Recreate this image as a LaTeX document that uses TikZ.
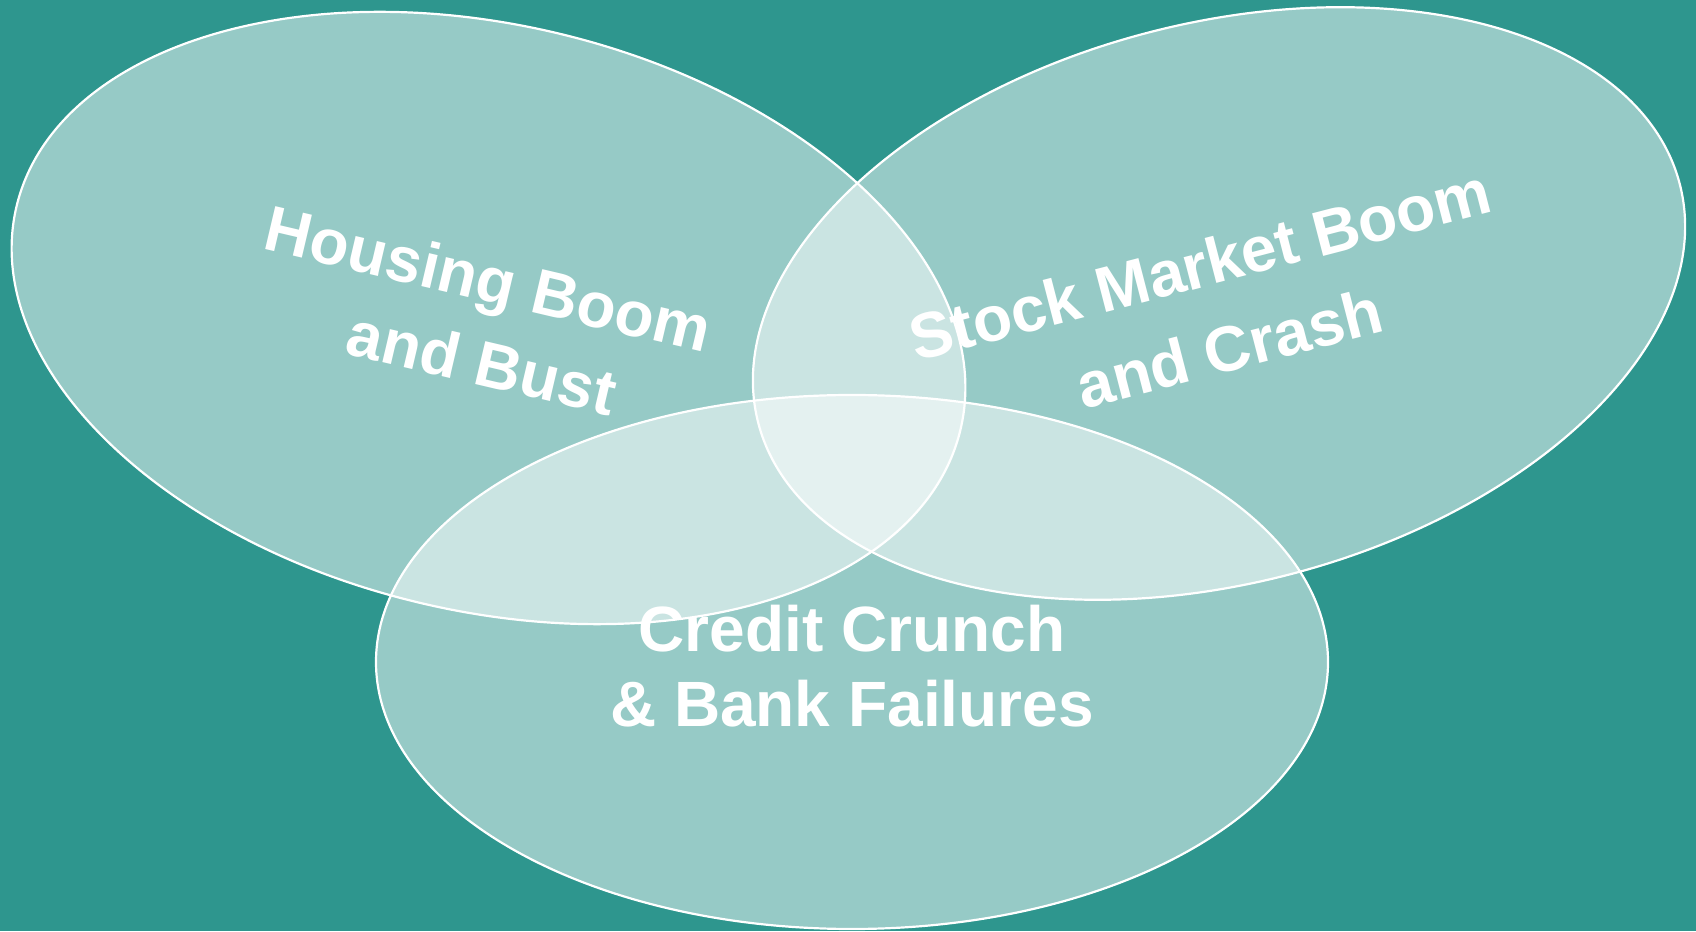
\documentclass[tikz,border=0pt]{standalone}
\usepackage{fontspec}
\setmainfont{Liberation Sans}
\usetikzlibrary{shapes.geometric}
\definecolor{bgteal}{RGB}{46,150,142}
\begin{document}
\begin{tikzpicture}[x=1pt,y=1pt,
  venn/.style={ellipse, draw=white, line width=2.2pt, fill=white, fill opacity=0.5, draw opacity=1, inner sep=0pt, outer sep=0pt},
  lbl/.style={text=white, align=center, inner sep=0pt, font=\fontsize{64}{75}\selectfont\bfseries}]
\fill[bgteal] (0,0) rectangle (1696,931);
\useasboundingbox (0,0) rectangle (1696,931);
\node[venn, minimum width=970pt, minimum height=586pt, rotate=-13.25] (housing) at (488.5,613) {};
\node[venn, minimum width=952pt, minimum height=560pt, rotate=14.55] (stock) at (1219,627.5) {};
\node[venn, minimum width=952pt, minimum height=534pt] (credit) at (852,269) {};
\node[lbl, rotate=-13.25] (tH) at (479,612) {Housing Boom\\[8pt]\hspace*{26pt}and Bust};
\node[lbl, rotate=14.55] (tS) at (1211,624) {Stock Market Boom\\[13pt]\hspace*{15pt}and Crash};
\node[lbl] (tC) at (852,265) {Credit Crunch\\\& Bank Failures};
\end{tikzpicture}
\end{document}
